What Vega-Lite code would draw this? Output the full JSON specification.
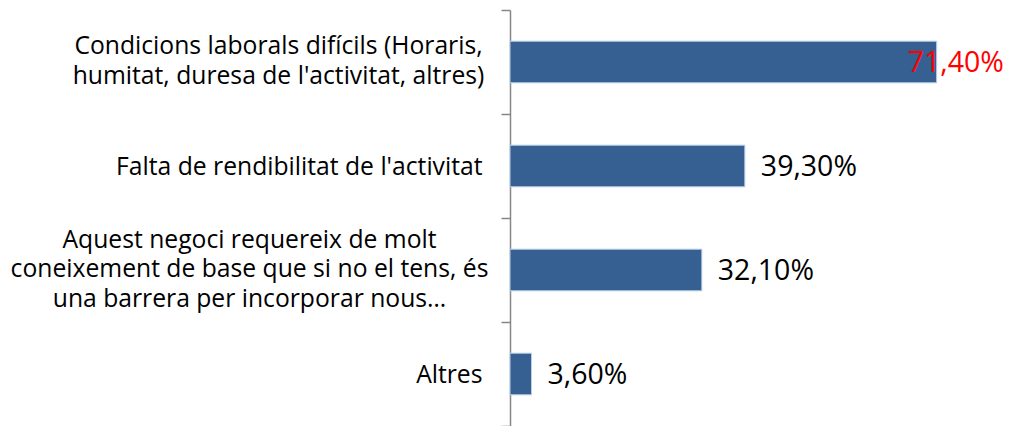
{
 "$schema": "https://vega.github.io/schema/vega-lite/v6.json",
 "width": 490, "height": 416,
 "autosize": "none",
 "padding": {"left": 510, "top": 10, "right": 13, "bottom": 0},
 "config": {"view": {"stroke": null}, "font": "Open Sans"},
 "data": {"values": [
   {"cat": "Condicions laborals difícils (Horaris,|humitat, duresa de l'activitat, altres)", "v": 71.4, "label": "71,40%"},
   {"cat": "Falta de rendibilitat de l'activitat", "v": 39.3, "label": "39,30%"},
   {"cat": "Aquest negoci requereix de molt|coneixement de base que si no el tens, és|una barrera per incorporar nous…", "v": 32.1, "label": "32,10%"},
   {"cat": "Altres", "v": 3.6, "label": "3,60%"}
 ]},
 "resolve": {"scale": {"y": "independent"}, "axis": {"y": "independent"}},
 "layer": [
   {
     "encoding": {
       "y": {"field": "cat", "type": "nominal", "sort": null,
         "scale": {"paddingInner": 0.6, "paddingOuter": 0.3},
         "axis": {"title": null, "orient": "left", "domain": false, "ticks": false,
           "labelExpr": "split(datum.value, '|')", "labelFontSize": 24.7, "labelColor": "#000000", "labelLineHeight": 29.5, "labelLimit": 0, "labelBaseline": "middle",
           "labelAlign": {"condition": {"test": "indexof(datum.value, '|') >= 0", "value": "center"}, "value": "right"},
           "labelOffset": {"condition": [{"test": "indexof(datum.value, 'Condicions') == 0", "value": -14.75}, {"test": "indexof(datum.value, 'Aquest') == 0", "value": -29.5}], "value": 1.5},
           "labelPadding": {"condition": [{"test": "indexof(datum.value, 'Condicions') == 0", "value": 232}, {"test": "indexof(datum.value, 'Aquest') == 0", "value": 261}], "value": 28}
         }},
       "x": {"field": "v", "type": "quantitative", "scale": {"domain": [0, 82]}, "axis": null}
     },
     "layer": [
       {"mark": {"type": "bar", "color": "#376092", "stroke": "#B9CDE5", "strokeWidth": 1}},
       {"transform": [{"filter": "datum.v < 60"}], "mark": {"type": "text", "align": "left", "baseline": "middle", "dx": 16, "dy": 1, "fontSize": 28.5, "color": "#000000"}, "encoding": {"text": {"field": "label"}}},
       {"transform": [{"filter": "datum.v >= 60"}], "mark": {"type": "text", "align": "left", "baseline": "middle", "dx": -29, "dy": 1, "fontSize": 28.5, "color": "#FF0000"}, "encoding": {"text": {"field": "label"}}}
     ]
   },
   {
     "mark": {"type": "bar", "opacity": 0},
     "encoding": {
       "y": {"field": "cat", "type": "nominal", "sort": null,
         "scale": {"paddingInner": 0, "paddingOuter": 0},
         "axis": {"title": null, "orient": "left", "labels": false, "domainColor": "#868686", "domainWidth": 1.5, "tickColor": "#868686", "tickWidth": 1.5, "tickSize": 9, "tickBand": "extent"}},
       "x": {"field": "v", "type": "quantitative", "scale": {"domain": [0, 82]}, "axis": null}
     }
   }
 ]
}
